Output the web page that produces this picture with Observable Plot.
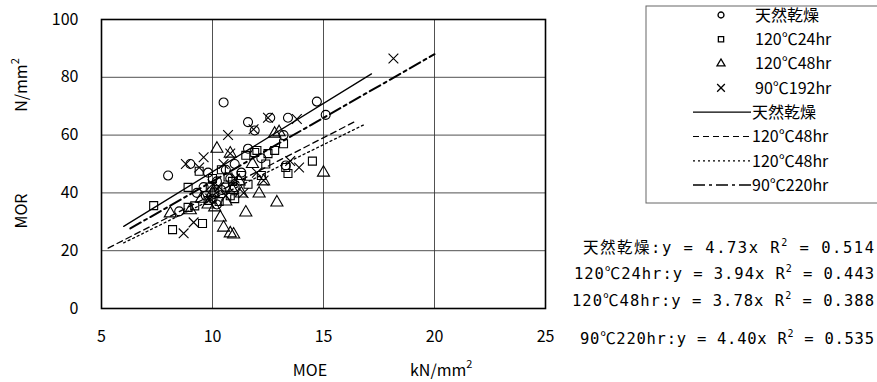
<!DOCTYPE html>
<html><head><meta charset="utf-8">
<script src="https://cdn.jsdelivr.net/npm/d3@7"></script>
<script src="https://cdn.jsdelivr.net/npm/@observablehq/plot@0.6"></script>
<style>
body{margin:0;background:#fff;}
#chart{position:relative;width:877px;height:382px;}
svg{font-family:"Noto Sans CJK JP","Noto Sans",sans-serif;}
</style></head>
<body><div id="chart"></div>
<script>
// Scatter data: [MOE, MOR]
const naturalDry = [[8.0,46],[8.5,33.6],[9.0,50],[9.3,40],[9.6,42],[10.0,38],[10.2,44],[10.5,71.3],[10.6,48],[10.8,45],[11.0,50],[11.3,47],[11.6,55.3],[11.6,64.5],[11.9,61.6],[12.2,52],[12.6,66],[13.2,60],[13.4,66],[13.3,49.5],[14.7,71.6],[15.1,67],[10.2,36],[9.8,47],[11.0,42],[9.7,39],[10.4,41]];
const c120h24 = [[7.35,35.6],[8.2,27.3],[8.9,35],[9.2,35.5],[9.55,29.4],[8.9,41.9],[9.4,47.5],[9.8,37.4],[10.1,40],[10.0,45],[10.4,48],[10.6,42],[10.9,44],[11.0,38],[11.3,46],[11.5,53],[11.9,54],[12.0,54.7],[12.5,53.6],[12.4,50],[12.8,54.7],[13.2,57],[13.3,48.8],[13.4,46.7],[14.5,51],[10.8,39],[11.6,43],[12.2,46],[9.9,42],[10.3,37],[10.7,45.5]];
const c120h48 = [[8.1,32.9],[9.0,34],[9.5,38],[10.2,55.3],[10.8,53.6],[10.35,31.5],[10.5,28],[10.8,26],[10.95,25.6],[11.3,39.8],[11.5,33.2],[12.1,39.8],[12.9,36.7],[12.8,60.5],[15.0,47],[10.0,40],[10.6,37],[11.2,44],[9.8,36],[12.3,44],[11.8,50],[13.0,61],[10.1,35],[10.9,41]];
const c90h192 = [[8.7,26],[9.15,29.8],[8.8,50],[9.4,48.8],[9.6,52.3],[10.7,60],[10.8,53.6],[11.85,62],[12.5,66],[13.8,65.6],[18.15,86.5],[13.9,48.8],[12.3,44.3],[11.0,45],[10.3,42],[9.9,38],[11.4,40],[12.0,47],[13.5,51],[10.5,50],[10.0,43],[10.6,39]];

const scatterNames = ["天然乾燥","120℃24hr","120℃48hr","90℃192hr"];
const scatterSymbols = ["circle","square","triangle","times"];

// Regression lines (endpoints)
const fitNames = ["天然乾燥","120℃48hr","120℃48hr","90℃220hr"];
const fitX0 = [6.0, 5.3, 6.0, 6.3];
const fitY0 = [28.4, 20.9, 22.7, 27.7];
const fitX1 = [17.16, 16.5, 16.8, 20.0];
const fitY1 = [81.2, 65.0, 63.5, 88.0];
const fitDash = ["none","6,4","2,3","12,4,3,4"];
const fitWidth = [1.3,1.3,1.3,2];

const eqLabels = ["天然乾燥:y = 4.73x","120℃24hr:y = 3.94x","120℃48hr:y = 3.78x","90℃220hr:y = 4.40x"];
const r2Values = ["0.514","0.443","0.388","0.535"];

const xTicks = [5,10,15,20,25];
const yTicks = [0,20,40,60,80,100];

const scatterSets = [naturalDry, c120h24, c120h48, c90h192];
const marks = [
  Plot.gridX(xTicks,{stroke:"#333",strokeOpacity:0.85,strokeWidth:1}),
  Plot.gridY(yTicks,{stroke:"#333",strokeOpacity:0.85,strokeWidth:1}),
];
scatterSets.forEach((set,i)=>{
  marks.push(Plot.dot(set,{x:d=>d[0],y:d=>d[1],symbol:()=>scatterSymbols[i],r:4.5,stroke:"#000",strokeWidth:1.1,fill:"none"}));
});
fitNames.forEach((n,i)=>{
  const seg=[{x:fitX0[i],y:fitY0[i]},{x:fitX1[i],y:fitY1[i]}];
  marks.push(Plot.line(seg,{x:"x",y:"y",stroke:"#000",strokeWidth:fitWidth[i],strokeDasharray:fitDash[i]}));
});
marks.push(Plot.frame({stroke:"#000",strokeWidth:1.6}));
marks.push(Plot.axisX(xTicks,{tickSize:0,tickPadding:22,fontSize:16,fill:"#000"}));
marks.push(Plot.axisY(yTicks,{tickSize:0,tickPadding:23,fontSize:16,fill:"#000"}));

const plot = Plot.plot({
  width:877,height:382,
  marginLeft:101,marginRight:332,marginTop:19,marginBottom:74,
  x:{domain:[5,25],label:null},
  y:{domain:[0,100],label:null},
  symbol:{type:"identity"},
  style:{fontFamily:'"Noto Sans CJK JP","Noto Sans",sans-serif',fontSize:"16px",color:"#000"},
  marks
});
document.getElementById("chart").appendChild(plot);

const svg = d3.select(plot);
const ff = '"Noto Sans CJK JP","Noto Sans",sans-serif';
const fm = '"DejaVu Sans Mono","Noto Sans CJK JP",monospace';
// axis titles
svg.append("text").attr("x",310).attr("y",376).attr("text-anchor","middle").attr("font-size",16).attr("font-family",ff).text("MOE");
const kn = svg.append("text").attr("x",410).attr("y",376).attr("text-anchor","start").attr("font-size",16).attr("font-family",ff);
kn.append("tspan").text("kN/mm");
kn.append("tspan").attr("dy",-8).attr("font-size",11).text("2");
svg.append("text").attr("transform","translate(27,211) rotate(-90)").attr("text-anchor","middle").attr("font-size",16).attr("font-family",ff).text("MOR");
const nm = svg.append("text").attr("transform","translate(27,85) rotate(-90)").attr("text-anchor","middle").attr("font-size",16).attr("font-family",ff);
nm.append("tspan").text("N/mm");
nm.append("tspan").attr("dy",-8).attr("font-size",11).text("2");

// legend
svg.append("rect").attr("x",646).attr("y",6).attr("width",240).attr("height",197).attr("fill","none").attr("stroke","#666").attr("stroke-width",1);
const rowY = i => 15 + i*24.3;
const symPaths = [d3.symbolCircle,d3.symbolSquare,d3.symbolTriangle,d3.symbolX];
scatterNames.forEach((n,i)=>{
  svg.append("path").attr("transform",`translate(721,${rowY(i)})`).attr("d",d3.symbol(symPaths[i],i==3?40:28)()).attr("fill","none").attr("stroke","#000").attr("stroke-width",1.3);
  svg.append("text").attr("x",755).attr("y",rowY(i)).attr("dy","0.36em").attr("text-anchor","start").attr("font-size",16).attr("font-family",ff).text(n);
});
fitNames.forEach((n,i)=>{
  const y=rowY(i+4);
  svg.append("line").attr("x1",693).attr("x2",751).attr("y1",y).attr("y2",y).attr("stroke","#000").attr("stroke-width",fitWidth[i]==2?1.5:1.2).attr("stroke-dasharray",fitDash[i]);
  svg.append("text").attr("x",752).attr("y",y).attr("dy","0.36em").attr("text-anchor","start").attr("font-size",16).attr("font-family",ff).text(n);
});

// equations
const eqY=[247,273,300,338];
const eqLeft=[583,574,572,580];
eqLabels.forEach((t,i)=>{
  const tx = svg.append("text").attr("x",eqLeft[i]).attr("y",eqY[i]).attr("dy","0.36em").attr("text-anchor","start").attr("font-size",15.5).attr("font-family",fm)
    .attr("textLength",874-eqLeft[i]).attr("lengthAdjust","spacing");
  tx.append("tspan").text(t+" R");
  tx.append("tspan").attr("dy",-7).attr("font-size",10).text("2");
  tx.append("tspan").attr("dy",7).text(" = "+r2Values[i]);
});
</script></body></html>
